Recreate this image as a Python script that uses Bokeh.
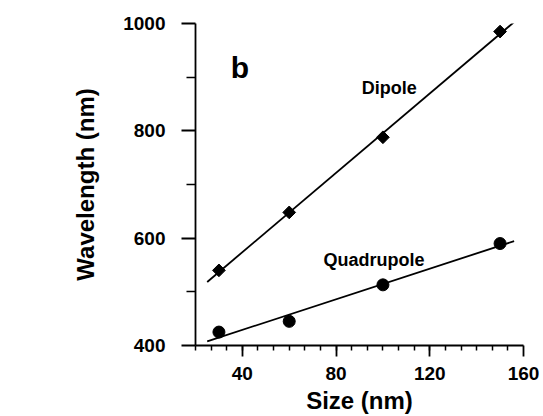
import numpy as np
from bokeh.plotting import figure
from bokeh.models import Range1d, FixedTicker
from bokeh.core.properties import value
from bokeh.embed import file_html
from bokeh.resources import INLINE

# Data
size_nm = [30, 60, 100, 150]
dipole_nm = [540, 648, 788, 985]
quadrupole_nm = [425, 445, 513, 590]
fit_range = [25, 156]
x_ticks = [40, 80, 120, 160]
y_ticks = [400, 600, 800, 1000]

FONT = "Liberation Sans"

p = figure(width=543, height=416, output_backend="svg", toolbar_location=None,
           x_range=Range1d(20, 160), y_range=Range1d(400, 1000),
           min_border_left=195, min_border_right=20, min_border_top=23,
           min_border_bottom=69)
p.outline_line_color = None
p.xgrid.visible = False
p.ygrid.visible = False
p.background_fill_color = "white"
p.border_fill_color = "white"

# fitted lines from data
xf = np.array(fit_range, dtype=float)
for ys in (dipole_nm, quadrupole_nm):
    k, b = np.polyfit(size_nm, ys, 1)
    p.line(xf, k * xf + b, line_color="black", line_width=1.8)

p.scatter(size_nm, dipole_nm, marker="square", angle=np.pi / 4, size=9,
          fill_color="black", line_color="black")
p.scatter(size_nm, quadrupole_nm, marker="circle", size=12,
          fill_color="black", line_color="black")

p.text(x=[35], y=[918], text=["b"], text_font=value(FONT), text_font_style="bold",
       text_font_size="30px", text_baseline="alphabetic", text_align="left",
       text_color="black")
p.text(x=[91, 74.6], y=[880, 559], text=["Dipole", "Quadrupole"],
       text_font=value(FONT), text_font_style="bold", text_font_size="18px",
       text_baseline="alphabetic", text_align="left", text_color="black")

xa = p.xaxis[0]
xa.ticker = FixedTicker(ticks=x_ticks,
                        minor_ticks=list(np.arange(20, 160.1, 40 / 6)))
xa.axis_label = "Size (nm)"
xa.axis_label_text_font = FONT
xa.axis_label_text_font_style = "bold"
xa.axis_label_text_font_size = "24px"
xa.axis_label_standoff = 4
xa.major_label_text_font = FONT
xa.major_label_text_font_style = "bold"
xa.major_label_text_font_size = "19px"
xa.major_label_standoff = 10
xa.major_tick_out = 11
xa.major_tick_in = 0
xa.minor_tick_out = 5
xa.minor_tick_in = 0

ya = p.yaxis[0]
ya.ticker = FixedTicker(ticks=y_ticks, minor_ticks=[500, 700, 900])
ya.axis_label = "Wavelength (nm)"
ya.axis_label_text_font = FONT
ya.axis_label_text_font_style = "bold"
ya.axis_label_text_font_size = "24px"
ya.axis_label_standoff = 21
ya.major_label_text_font = FONT
ya.major_label_text_font_style = "bold"
ya.major_label_text_font_size = "19px"
ya.major_label_standoff = 16
ya.major_tick_out = 14
ya.major_tick_in = 0
ya.minor_tick_out = 9
ya.minor_tick_in = 0

for ax in (xa, ya):
    ax.axis_line_width = 1.8
    ax.major_tick_line_width = 1.8
    ax.minor_tick_line_width = 1.5
    ax.axis_line_color = "black"
    ax.major_tick_line_color = "black"
    ax.minor_tick_line_color = "black"
    ax.major_label_text_color = "black"
    ax.axis_label_text_color = "black"

open("out.html", "w").write(file_html(p, INLINE))
